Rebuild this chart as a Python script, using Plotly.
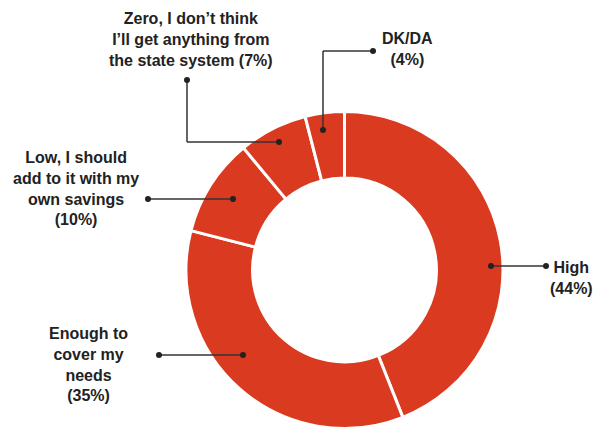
import plotly.graph_objects as go

W, H = 597, 429

labels = ["High", "Enough to cover my needs", "Low, I should add to it with my own savings",
          "Zero, I don't think I'll get anything from the state system", "DK/DA"]
values = [44, 35, 10, 7, 4]
label_texts = ["High<br>(44%)", "Enough to<br>cover my<br>needs<br>(35%)",
               "Low, I should<br>add to it with my<br>own savings<br>(10%)",
               "Zero, I don’t think<br>I’ll get anything from<br>the state system (7%)",
               "DK/DA<br>(4%)"]

RED = "#d93a20"
INK = "#222222"

def px(x):
    return x / W

def py(y):
    return 1 - y / H

fig = go.Figure(go.Pie(
    labels=labels, values=values, sort=False, direction="clockwise", rotation=0,
    hole=0.58, marker=dict(colors=[RED] * len(values), line=dict(color="white", width=3)),
    textinfo="none", hoverinfo="label+percent", showlegend=False,
    domain=dict(x=[px(186), px(503)], y=[py(428.5), py(111.5)]),
))

# label placement (pixel positions): text centre, and leader-line polyline
text_pos = [(571, 277.5), (88, 364.5), (75.5, 188.5), (191, 40), (407.5, 48.5)]
leaders = [
    [(491, 266), (546, 266)],
    [(243, 355), (159, 355)],
    [(233, 199), (148, 199)],
    [(279, 142), (187, 142), (187, 80)],
    [(323, 130), (323, 51), (373, 51)],
]

shapes = []
annotations = []
for txt, (tx, ty), pts in zip(label_texts, text_pos, leaders):
    annotations.append(dict(text=txt, x=px(tx), y=py(ty), xref="paper", yref="paper",
                            xanchor="center", yanchor="middle", showarrow=False, align="center",
                            font=dict(family="Liberation Sans, Arial, sans-serif", size=16,
                                      color=INK, weight="bold")))
    for (x0, y0), (x1, y1) in zip(pts[:-1], pts[1:]):
        shapes.append(dict(type="line", xref="paper", yref="paper", x0=px(x0), y0=py(y0),
                           x1=px(x1), y1=py(y1), line=dict(color="#333333", width=1.5)))
    for (cx, cy) in (pts[0], pts[-1]):
        r = 3
        shapes.append(dict(type="circle", xref="paper", yref="paper", x0=px(cx - r), y0=py(cy + r),
                           x1=px(cx + r), y1=py(cy - r), fillcolor=INK, line=dict(width=0)))

fig.update_layout(width=W, height=H, margin=dict(l=0, r=0, t=0, b=0),
                  paper_bgcolor="white", plot_bgcolor="white",
                  shapes=shapes, annotations=annotations)

fig.write_html("out.html", config={"displayModeBar": False},
               post_script="document.body.style.margin='0';document.body.style.overflow='hidden';")
